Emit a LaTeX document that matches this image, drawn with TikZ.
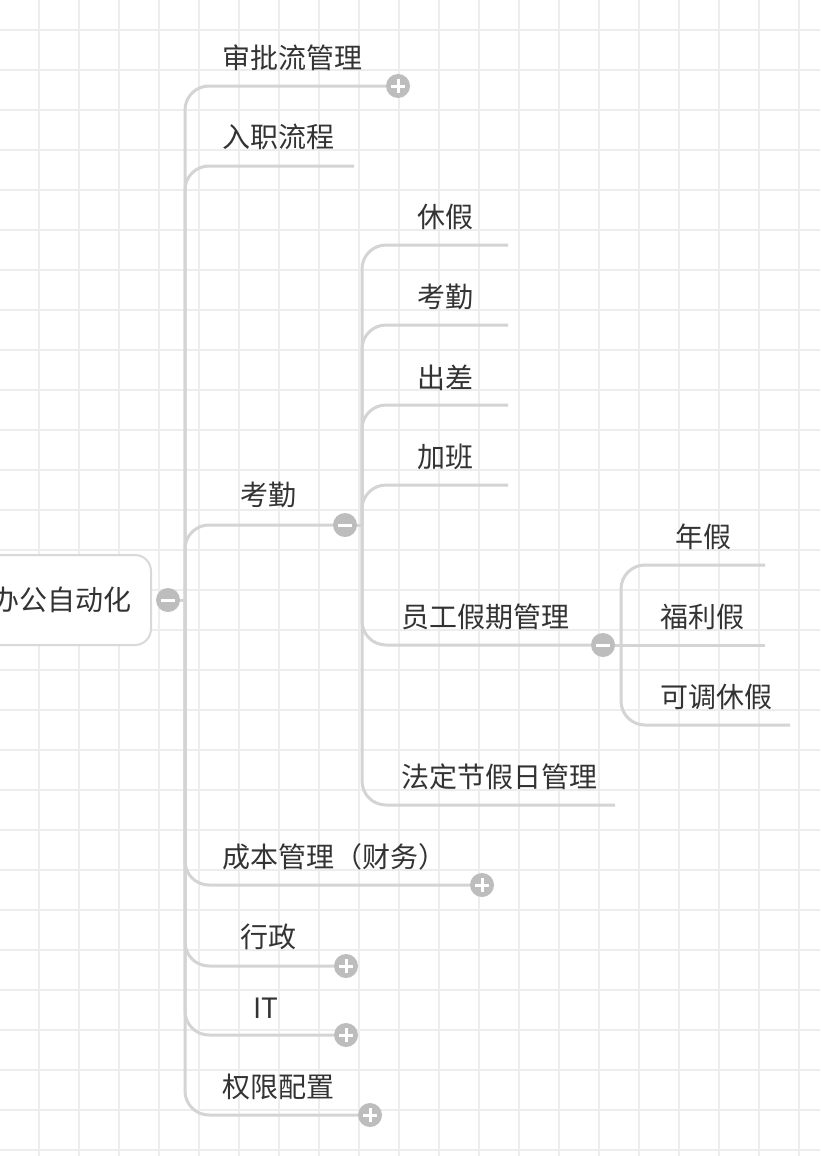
\documentclass[tikz,border=0pt]{standalone}
\usepackage{fontspec}
\newfontfamily\cjk{Noto Sans CJK SC}
\definecolor{gridc}{HTML}{EDEDED}
\definecolor{linec}{HTML}{D4D4D4}
\definecolor{circc}{HTML}{BDBDBD}
\definecolor{txtc}{HTML}{333333}
\definecolor{boxc}{HTML}{D9D9D9}
\pgfdeclarelayer{bg}
\pgfsetlayers{bg,main}
\tikzset{
  lbl/.style={anchor=west, inner sep=0pt, text=txtc, font=\cjk\fontsize{28}{31}\selectfont},
  branch/.style={draw=linec, line width=3pt, rounded corners=24pt},
  gridline/.style={draw=gridc, line width=2pt},
  toggle/.style={circle, fill=circc, minimum size=24pt, inner sep=0pt},
  plusc/.style={toggle, path picture={
     \draw[white, line width=3pt] ([xshift=-7pt]path picture bounding box.center) -- ([xshift=7pt]path picture bounding box.center);
     \draw[white, line width=3pt] ([yshift=-7pt]path picture bounding box.center) -- ([yshift=7pt]path picture bounding box.center);}},
  minusc/.style={toggle, path picture={
     \draw[white, line width=3pt] ([xshift=-7pt]path picture bounding box.center) -- ([xshift=7pt]path picture bounding box.center);}},
}
\begin{document}
\begin{tikzpicture}[x=1pt, y=-1pt]
\useasboundingbox (0,0) rectangle (820,1156);
\begin{pgfonlayer}{bg}
\fill[white] (0,0) rectangle (820,1156);
\foreach \gx in {39,79,...,799} \draw[gridline] (\gx,0) -- (\gx,1156);
\foreach \gy in {30,70,...,1150} \draw[gridline] (0,\gy) -- (820,\gy);
\end{pgfonlayer}

% root
\node[draw=boxc, line width=2pt, fill=white, rounded corners=16pt, minimum width=175pt, minimum height=90pt, anchor=east] (root) at (152,600) {};
\node[lbl] (roott) at (-9,600) {办公自动化};
\node[minusc] (rc) at (168,600) {};
\coordinate (T) at (185,600);

% level 1
\node[plusc] (c1) at (398,86) {};
\node[lbl] (l1) at (222,58) {审批流管理};
\coordinate (e2) at (354,166);
\node[lbl] (l2) at (222,137) {入职流程};
\node[minusc] (c3) at (345,525) {};
\node[lbl] (l3) at (240,495) {考勤};
\node[plusc] (c4) at (482,885) {};
\node[lbl] (l4) at (222,857) {成本管理（财务）};
\node[plusc] (c5) at (346,966) {};
\node[lbl] (l5) at (240,937) {行政};
\node[plusc] (c6) at (346,1035) {};
\node[lbl] (l6) at (253,1008) {IT};
\node[plusc] (c7) at (370,1115) {};
\node[lbl] (l7) at (222,1087) {权限配置};

% level 2
\coordinate (T2) at (362,525);
\coordinate (f1) at (508,245);
\node[lbl] (m1) at (417,217) {休假};
\coordinate (f2) at (508,325);
\node[lbl] (m2) at (417,297) {考勤};
\coordinate (f3) at (508,405);
\node[lbl] (m3) at (417,378) {出差};
\coordinate (f4) at (508,485);
\node[lbl] (m4) at (417,457) {加班};
\node[minusc] (d5) at (603,645) {};
\node[lbl] (m5) at (401,617) {员工假期管理};
\coordinate (f6) at (615,805);
\node[lbl] (m6) at (401,777) {法定节假日管理};

% level 3
\coordinate (T3) at (621,645);
\coordinate (g1) at (765,565);
\node[lbl] (n1) at (675,537) {年假};
\coordinate (g2) at (765,645);
\node[lbl] (n2) at (660,617) {福利假};
\coordinate (g3) at (790,725);
\node[lbl] (n3) at (660,697) {可调休假};

\begin{pgfonlayer}{bg}
\draw[branch] (rc.east) -- (T);
\draw[branch] (T) |- (c1.west);
\draw[branch] (T) |- (e2);
\draw[branch] (T) |- (c3.west);
\draw[branch] (T) |- (c4.west);
\draw[branch] (T) |- (c5.west);
\draw[branch] (T) |- (c6.west);
\draw[branch] (T) |- (c7.west);
\draw[branch] (c3.east) -- (T2);
\draw[branch] (T2) |- (f1);
\draw[branch] (T2) |- (f2);
\draw[branch] (T2) |- (f3);
\draw[branch] (T2) |- (f4);
\draw[branch] (T2) |- (d5.west);
\draw[branch] (T2) |- (f6);
\draw[branch] (d5.east) -- (T3);
\draw[branch] (T3) |- (g1);
\draw[branch] (T3) -- (g2);
\draw[branch] (T3) |- (g3);
\end{pgfonlayer}
\end{tikzpicture}
\end{document}
